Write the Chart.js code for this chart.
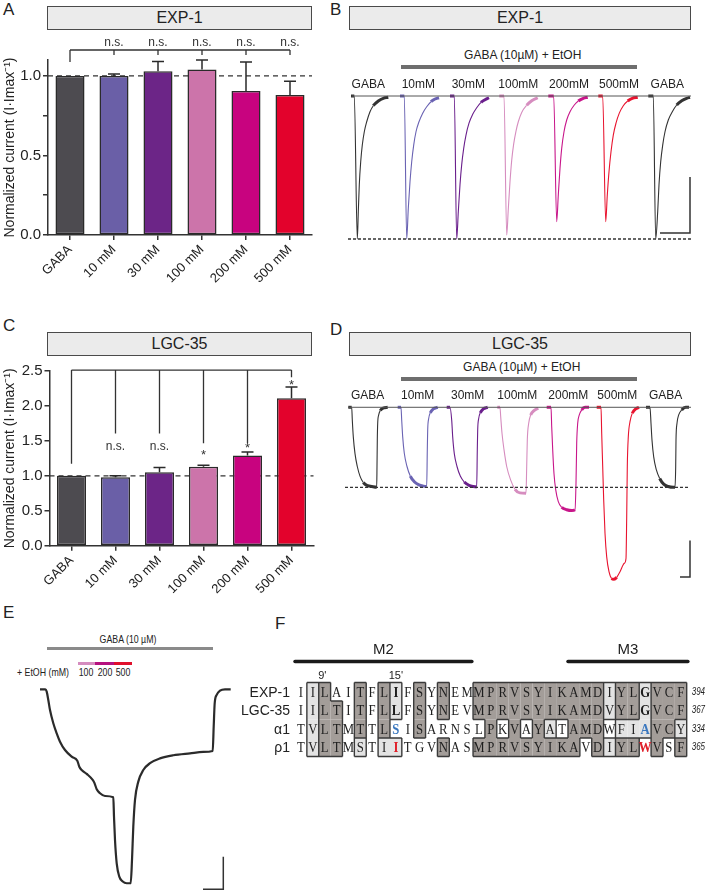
<!DOCTYPE html>
<html lang="en">
<head>
<meta charset="UTF-8" />
<title>EXP-1 / LGC-35 ethanol potentiation</title>
<script src="https://cdn.jsdelivr.net/npm/chart.js"></script>
<style>
  body { margin: 0; background: #fff; color: #222; font-family: "Liberation Sans", Arial, sans-serif; }
  #fig { position: relative; width: 709px; height: 892px; overflow: hidden; }
  canvas, .abs { position: absolute; }
  .letter { font-size: 17px; line-height: 17px; }
  .hdr { position: absolute; height: 24px; box-sizing: border-box; background: #ebebeb; border: 1px solid #4a4a4a;
         text-align: center; font-size: 16px; line-height: 22px; }
  .lbl { position: absolute; font-size: 12px; line-height: 12px; white-space: nowrap; transform: translate(-50%, -50%); }
  .narrow { position: absolute; font-size: 11px; line-height: 11px; white-space: nowrap; transform: translate(-50%, -50%) scaleX(0.8); }
  .gbar { position: absolute; }
</style>
</head>
<body>
<div id="fig">
  <div class="abs letter" style="left:3px;top:1px">A</div>
  <div class="abs letter" style="left:330px;top:1px">B</div>
  <div class="abs letter" style="left:3px;top:317px">C</div>
  <div class="abs letter" style="left:330px;top:321px">D</div>
  <div class="abs letter" style="left:3px;top:604px">E</div>
  <div class="abs letter" style="left:275px;top:615px">F</div>

  <div class="hdr" style="left:47px;top:6px;width:265px">EXP-1</div>
  <div class="hdr" style="left:349px;top:6px;width:342px">EXP-1</div>
  <div class="hdr" style="left:47px;top:332px;width:265px">LGC-35</div>
  <div class="hdr" style="left:349px;top:332px;width:342px">LGC-35</div>

  <canvas id="cA" width="325" height="266" style="left:0;top:36px"></canvas>
  <canvas id="cB" width="350" height="160" style="left:345px;top:88px"></canvas>
  <canvas id="cC" width="325" height="250" style="left:0;top:360px"></canvas>
  <canvas id="cD" width="350" height="185" style="left:345px;top:400px"></canvas>
  <canvas id="cE" width="210" height="212" style="left:30px;top:680px"></canvas>
  <canvas id="cF" width="469" height="120" style="left:240px;top:640px"></canvas>
</div>

<script>
  // ---- bar charts (A, C) ----
  const categories = ['GABA', '10 mM', '30 mM', '100 mM', '200 mM', '500 mM'];
  const exp1Mean = [1.00, 1.00, 1.03, 1.04, 0.905, 0.88];
  const exp1ErrTop = [1.00, 1.012, 1.09, 1.10, 1.088, 0.967];
  const exp1Sig = ['', 'n.s.', 'n.s.', 'n.s.', 'n.s.', 'n.s.'];
  const exp1SigY = [0, 1.187, 1.187, 1.187, 1.187, 1.187];
  const exp1Bracket = 1.163;
  const exp1BracketEnds = [1.088, 1.132, 1.132, 1.132, 1.132, 1.132];
  const exp1Ticks = [0, 0.25, 0.5, 0.75, 1.0];

  const lgc35Mean = [1.00, 0.98, 1.05, 1.13, 1.29, 2.11];
  const lgc35ErrTop = [1.00, 1.00, 1.12, 1.15, 1.34, 2.27];
  const lgc35Sig = ['', 'n.s.', 'n.s.', '*', '*', '*'];
  const lgc35SigY = [0, 1.366, 1.366, 1.247, 1.34, 2.236];
  const lgc35Bracket = 2.513;
  const lgc35BracketEnds = [1.172, 1.607, 1.607, 1.465, 1.465, 2.41];
  const lgc35Ticks = [0, 0.5, 1.0, 1.5, 2.0, 2.5];

  // ---- traces (B, D): [time, normalized current] ----
  const traceLabels = ['GABA', '10mM', '30mM', '100mM', '200mM', '500mM', 'GABA'];
  const bGaba1 = [[6,0],[9.3,0],[12.3,-1.0],[13.3,-0.81],[14.3,-0.62],[15.7,-0.46],[17.3,-0.343],[19.3,-0.25],[21.7,-0.18],[25,-0.11],[28.3,-0.068],[33.3,-0.035],[38.3,-0.016],[43.3,-0.009]];
  const b10 = [[55,0],[59.3,0],[61.7,-1.0],[63.3,-0.785],[65,-0.6],[66.7,-0.46],[68.7,-0.343],[71,-0.25],[74,-0.18],[77.7,-0.12],[81.7,-0.075],[86,-0.04],[90,-0.021],[94,-0.012]];
  const b30 = [[105,0],[109.3,0],[111.7,-1.0],[113.3,-0.81],[115,-0.62],[116.7,-0.48],[118.7,-0.366],[121,-0.273],[124,-0.19],[127.7,-0.128],[131.7,-0.082],[136,-0.044],[140,-0.026],[144,-0.012]];
  const b100 = [[154.3,0],[159,0],[161.7,-0.972],[163.3,-0.79],[165,-0.6],[166.7,-0.45],[168.7,-0.335],[171,-0.245],[173.3,-0.18],[176.7,-0.115],[181.7,-0.065],[186.7,-0.033],[192.7,-0.012]];
  const b200 = [[203.3,0],[208.7,0],[211.7,-0.879],[213.3,-0.692],[215,-0.506],[216.7,-0.366],[219,-0.25],[221.7,-0.168],[225,-0.11],[229.3,-0.063],[233.3,-0.035],[238.3,-0.016],[242.7,-0.009]];
  const b500 = [[253.3,0],[257.7,0],[260.7,-0.879],[262.3,-0.692],[264,-0.53],[266,-0.39],[268.3,-0.273],[271,-0.19],[274.3,-0.12],[278.3,-0.068],[282.7,-0.035],[287.3,-0.016],[292.7,-0.009]];
  const bGaba2 = [[303.3,0],[308.3,0],[310.7,-1.0],[312.7,-0.81],[314,-0.62],[315.7,-0.46],[317.7,-0.343],[320,-0.25],[323.3,-0.168],[327.3,-0.11],[331.7,-0.063],[336.7,-0.033],[341.7,-0.016],[345,-0.009]];

  const dGaba1 = [[3.3,0],[6.7,0],[7.3,-0.16],[8.3,-0.37],[10,-0.58],[12.3,-0.74],[15,-0.86],[18.3,-0.94],[22.7,-0.98],[26.7,-0.99],[31.7,-1.0],[32,-0.74],[32.3,-0.41],[32.7,-0.2],[33.7,-0.096],[35.3,-0.042],[38.3,-0.009],[42.7,0]];
  const d10 = [[52.7,0],[56,0],[56.7,-0.16],[57.7,-0.37],[59.3,-0.575],[62,-0.74],[65.3,-0.86],[69.3,-0.93],[74,-0.97],[78.3,-0.985],[81.7,-0.99],[82.3,-0.53],[82.7,-0.28],[83.7,-0.14],[85.3,-0.07],[88.3,-0.02],[92.7,0]];
  const d30 = [[101.7,0],[105,0],[106.7,-0.16],[107.7,-0.37],[109.3,-0.58],[112,-0.74],[115.3,-0.86],[119.3,-0.935],[124,-0.975],[128.3,-0.99],[131.7,-0.995],[132.3,-0.53],[132.7,-0.28],[133.7,-0.14],[135.3,-0.07],[138.3,-0.02],[142.7,0]];
  const d100 = [[152.3,0],[155,0],[155.7,-0.117],[157,-0.325],[159,-0.53],[161.7,-0.74],[165.7,-0.91],[170,-1.025],[175,-1.07],[181,-1.075],[181.7,-0.74],[182.3,-0.41],[183.7,-0.2],[185.7,-0.096],[189,-0.042],[193.3,-0.012]];
  const d200 = [[201.7,0],[206,0],[206.7,-0.24],[207.7,-0.53],[209,-0.83],[210.7,-1.03],[213.3,-1.18],[216.7,-1.25],[221.7,-1.28],[226.7,-1.29],[230,-1.28],[231,-0.95],[231.7,-0.45],[232.7,-0.2],[234.3,-0.096],[236.7,-0.034],[240,0],[244,0]];
  const d500 = [[251.7,0],[256,0],[256.7,-0.325],[257.7,-0.74],[258.7,-1.16],[260,-1.575],[261.7,-1.87],[264,-2.055],[266.7,-2.14],[269,-2.15],[271.7,-2.125],[275,-2.055],[279.3,-1.95],[281,-1.89],[281.7,-1.37],[282.3,-0.74],[283.3,-0.37],[285,-0.18],[287.3,-0.075],[290.7,-0.02],[294,0]];
  const dGaba2 = [[301,0],[305,0],[306,-0.2],[307,-0.41],[308.7,-0.62],[311.3,-0.78],[314.7,-0.89],[318.7,-0.96],[323.3,-0.99],[328.3,-1.0],[330,-1.0],[330.7,-0.74],[331,-0.41],[332,-0.2],[333.7,-0.096],[336.7,-0.034],[340.7,0],[344,0]];

  // ---- trace (E): GABA 10 µM with stepwise EtOH ----
  const eTrace = [[0,0],[5.3,0],[6.7,-0.012],[8.3,-0.055],[10,-0.107],[13.3,-0.175],[16.7,-0.227],[20,-0.27],[25,-0.313],[31.7,-0.347],[37.3,-0.368],[39.3,-0.399],[41.7,-0.416],[46.7,-0.436],[52.7,-0.467],[54.3,-0.481],[56.7,-0.515],[60,-0.536],[65,-0.55],[73.3,-0.557],[74,-0.656],[75,-0.777],[76.7,-0.897],[79.3,-0.966],[82.7,-0.991],[86.7,-1.0],[90.7,-1.0],[92,-0.88],[93.3,-0.708],[95,-0.57],[98.3,-0.476],[103.3,-0.416],[110,-0.381],[120,-0.356],[133.3,-0.34],[150,-0.33],[163.3,-0.323],[172.7,-0.318],[173.7,-0.192],[174.7,-0.072],[176.7,-0.029],[180,-0.007],[185,0],[190.7,0]];
  const eSteps = ['100', '200', '500'];

  // ---- alignment (F) ----
  const seqNames = ['EXP-1', 'LGC-35', 'α1', 'ρ1'];
  const seqs = ['IILAITFLIFSYNEMMPRVSYIKAMDIYLGVCF',
                'IILTITFLLFSYNEVMPRVSYIKAMDVYLGVCF',
                'TVLTMTTLSISARNSLPKVAYATAMDWFIAVCY',
                'TVLTMSTIITGVNASMPRVSYIKAVDIYLWVSF'];
  const seqEnds = ['394', '367', '334', '365'];
  // 0 none, 1 similar, 2 identical, 3 boxed
  const shading = ['012002021020200222222222221221222',
                   '012202021020200222222222221221222',
                   '012202020020000023232132220111221',
                   '012201011000200222222222021220202'];
  const blueMarks = [[2, 8], [2, 29]];
  const redMarks = [[3, 8], [3, 29]];
  const boldMarks = [[0, 8], [1, 8], [0, 29], [1, 29]];
  const motifs = [['M2', -0.5, 14.4], ['M3', 22.5, 32.6]];
  const primes = [["9'", 1.8], ["15'", 8]];

  Chart.defaults.font.family = '"Liberation Sans", Arial, sans-serif';
  Chart.defaults.color = '#222';
  const axisColor = '#333';
  const barColors = ['#4d4b50', '#6a5fa7', '#6c2587', '#cc74aa', '#c8037f', '#e3022c'];
  const traceColors = ['#333333', '#6a63b3', '#6a1f8c', '#d68dbf', '#c8168a', '#e8142f', '#333333'];

  function sigPlugin(o) {
    return {
      id: 'sig',
      beforeDatasetsDraw(chart) {
        const { ctx, chartArea: a, scales: { y } } = chart;
        ctx.save();
        ctx.strokeStyle = '#333';
        ctx.lineWidth = 1.3;
        ctx.setLineDash([5, 4]);
        ctx.beginPath();
        ctx.moveTo(a.left, y.getPixelForValue(1));
        ctx.lineTo(a.right, y.getPixelForValue(1));
        ctx.stroke();
        ctx.restore();
      },
      afterDatasetsDraw(chart) {
        const { ctx, scales: { x, y } } = chart;
        ctx.save();
        ctx.strokeStyle = '#2a2a2a';
        ctx.lineWidth = 1.5;
        o.means.forEach((m, i) => {
          if (o.err[i] <= m) return;
          const px = x.getPixelForValue(i);
          const top = y.getPixelForValue(o.err[i]);
          ctx.beginPath();
          ctx.moveTo(px, y.getPixelForValue(m));
          ctx.lineTo(px, top);
          ctx.moveTo(px - 6, top);
          ctx.lineTo(px + 6, top);
          ctx.stroke();
        });
        // bracket
        ctx.strokeStyle = '#333';
        ctx.lineWidth = 1.3;
        const by = y.getPixelForValue(o.bracket);
        ctx.beginPath();
        ctx.moveTo(x.getPixelForValue(0), by);
        ctx.lineTo(x.getPixelForValue(categories.length - 1), by);
        o.ends.forEach((e, i) => {
          const px = x.getPixelForValue(i);
          ctx.moveTo(px, by);
          ctx.lineTo(px, y.getPixelForValue(e));
        });
        ctx.stroke();
        ctx.fillStyle = '#333';
        ctx.textAlign = 'center';
        ctx.textBaseline = 'alphabetic';
        o.sig.forEach((s, i) => {
          if (!s) return;
          ctx.font = (s === '*' ? '13px' : '12px') + ' "Liberation Sans", Arial, sans-serif';
          ctx.fillText(s, x.getPixelForValue(i), y.getPixelForValue(o.sigY[i]));
        });
        ctx.restore();
      }
    };
  }

  function barChart(id, o) {
    const gridOpts = { offset: false, drawOnChartArea: false, drawTicks: true, tickLength: 5, color: axisColor, lineWidth: 1.5 };
    return new Chart(document.getElementById(id), {
      type: 'bar',
      data: {
        labels: categories,
        datasets: [{ data: o.means, backgroundColor: barColors, borderColor: '#2a2a2a', borderWidth: 1.5,
                     borderSkipped: false, barPercentage: 0.66, categoryPercentage: 1 }]
      },
      options: {
        responsive: false, animation: false, events: [],
        layout: { padding: o.pad },
        plugins: { legend: { display: false }, tooltip: { enabled: false } },
        scales: {
          x: {
            grid: gridOpts, border: { color: axisColor, width: 1.5 },
            ticks: { autoSkip: false, minRotation: 45, maxRotation: 45, font: { size: 13 }, color: '#222', padding: 2 },
            afterFit: s => { s.height = o.xHeight; }
          },
          y: {
            min: 0, max: o.yMax,
            grid: gridOpts, border: { color: axisColor, width: 1.5 },
            ticks: {
              autoSkip: false, font: { size: 15 }, color: '#222', padding: 2,
              callback: v => (Math.abs(v * 2 - Math.round(v * 2)) < 1e-6 ? v.toFixed(1) : '')
            },
            afterBuildTicks: s => { s.ticks = o.ticks.map(v => ({ value: v })); },
            title: { display: true, text: 'Normalized current (I·Imax⁻¹)', font: { size: 14 }, color: '#222',
                     padding: { top: 2, bottom: 0 } },
            afterFit: s => { s.width = o.yWidth; }
          }
        }
      },
      plugins: [sigPlugin(o)]
    });
  }

  barChart('cA', { means: exp1Mean, err: exp1ErrTop, sig: exp1Sig, sigY: exp1SigY, bracket: exp1Bracket,
                   ends: exp1BracketEnds, yMax: 1.1, ticks: exp1Ticks, yWidth: 48, xHeight: 67,
                   pad: { top: 24, right: 13, left: 0, bottom: 0 } });
  barChart('cC', { means: lgc35Mean, err: lgc35ErrTop, sig: lgc35Sig, sigY: lgc35SigY, bracket: lgc35Bracket,
                   ends: lgc35BracketEnds, yMax: 2.5, ticks: lgc35Ticks, yWidth: 49.5, xHeight: 64.3,
                   pad: { top: 10, right: 11.5, left: 0, bottom: 0 } });

  // ---- trace charts ----
  const pts = arr => arr.map(p => ({ x: p[0], y: p[1] }));

  function trace(arr, color, thin, thick, flat) {
    return {
      data: pts(arr), borderColor: color, borderWidth: thin, pointRadius: 0, clip: false,
      cubicInterpolationMode: 'monotone',
      segment: {
        borderWidth: c => (Math.abs((c.p1.y - c.p0.y) / ((c.p1.x - c.p0.x) || 1e-6)) < flat ? thick : thin)
      }
    };
  }
  function straight(arr, color, width, dash) {
    return { data: pts(arr), borderColor: color, borderWidth: width, borderDash: dash || [], pointRadius: 0,
             tension: 0, clip: false };
  }
  function traceChart(id, xr, yr, sets) {
    return new Chart(document.getElementById(id), {
      type: 'line',
      data: { datasets: sets },
      options: {
        responsive: false, animation: false, events: [],
        layout: { padding: 0 },
        plugins: { legend: { display: false }, tooltip: { enabled: false } },
        scales: {
          x: { type: 'linear', display: false, min: xr[0], max: xr[1] },
          y: { type: 'linear', display: false, min: yr[0], max: yr[1] }
        }
      }
    });
  }

  const bTraces = [bGaba1, b10, b30, b100, b200, b500, bGaba2];
  traceChart('cB', [0, 350], [-1.063, 0.056], [
    straight([[7, 0], [346, 0]], '#555', 1),
    straight([[3, -1], [346, -1]], '#333', 1.3, [3, 2]),
    ...bTraces.map((t, i) => trace(t, traceColors[i], 1.1, 3, 1.0)),
    straight([[315, -0.958], [345, -0.958], [345, -0.566]], '#333', 1.5)
  ]);

  const dTraces = [dGaba1, d10, d30, d100, d200, d500, dGaba2];
  traceChart('cD', [0, 350], [-2.221, 0.091], [
    straight([[3, 0], [346, 0]], '#555', 1),
    straight([[0, -1], [345, -1]], '#333', 1.3, [3, 2]),
    ...dTraces.map((t, i) => trace(t, traceColors[i], 1.1, 3, 1.5)),
    straight([[335, -2.12], [345, -2.12], [345, -1.666]], '#333', 1.5)
  ]);

  traceChart('cE', [-10, 200], [-1.045, 0.048], [
    { data: pts(eTrace), borderColor: '#2b2b2b', borderWidth: 2.2, pointRadius: 0, clip: false,
      cubicInterpolationMode: 'monotone' },
    straight([[163, -1.031], [183.3, -1.031], [183.3, -0.863]], '#333', 1.5)
  ]);

  // ---- alignment chart ----
  const alignPlugin = {
    id: 'align',
    afterDraw(chart) {
      const { ctx, chartArea: a, scales: { x, y } } = chart;
      const w = x.getPixelForValue(1) - x.getPixelForValue(0);
      const h = y.getPixelForValue(1) - y.getPixelForValue(0);
      const code = (r, c) => (r < 0 || r >= seqs.length || c < 0 || c >= seqs[0].length) ? 0 : +shading[r][c];
      const has = (list, r, c) => list.some(m => m[0] === r && m[1] === c);
      ctx.save();
      for (let r = 0; r < seqs.length; r++) {
        for (let c = 0; c < seqs[r].length; c++) {
          const k = code(r, c);
          if (!k) continue;
          ctx.fillStyle = k === 2 ? '#a39d99' : k === 1 ? '#e3e3e3' : '#ffffff';
          ctx.fillRect(x.getPixelForValue(c) - w / 2, y.getPixelForValue(r) - h / 2, w, h);
        }
      }
      ctx.strokeStyle = '#3a3a3a';
      ctx.lineWidth = 1.4;
      ctx.beginPath();
      for (let r = 0; r < seqs.length; r++) {
        for (let c = 0; c < seqs[r].length; c++) {
          const k = code(r, c);
          if (!k) continue;
          const l = x.getPixelForValue(c) - w / 2, t = y.getPixelForValue(r) - h / 2;
          if (code(r, c - 1) !== k) { ctx.moveTo(l, t); ctx.lineTo(l, t + h); }
          if (code(r, c + 1) !== k) { ctx.moveTo(l + w, t); ctx.lineTo(l + w, t + h); }
          if (code(r - 1, c) !== k) { ctx.moveTo(l, t); ctx.lineTo(l + w, t); }
          if (code(r + 1, c) !== k) { ctx.moveTo(l, t + h); ctx.lineTo(l + w, t + h); }
        }
      }
      ctx.stroke();
      ctx.textAlign = 'center';
      ctx.textBaseline = 'middle';
      for (let r = 0; r < seqs.length; r++) {
        for (let c = 0; c < seqs[r].length; c++) {
          const bold = has(boldMarks, r, c) || has(blueMarks, r, c) || has(redMarks, r, c);
          ctx.fillStyle = has(blueMarks, r, c) ? '#3b78bf' : has(redMarks, r, c) ? '#e0202a' : '#1e1e1e';
          ctx.font = (bold ? 'bold ' : '') + '15px "Liberation Serif", serif';
          ctx.save();
          ctx.translate(x.getPixelForValue(c), y.getPixelForValue(r) + 1);
          ctx.scale(0.85, 1);
          ctx.fillText(seqs[r][c], 0, 0);
          ctx.restore();
        }
      }
      // row names and residue numbers
      ctx.fillStyle = '#222';
      seqNames.forEach((n, r) => {
        ctx.font = '14px "Liberation Sans", Arial, sans-serif';
        ctx.textAlign = 'right';
        ctx.fillText(n, a.left - 5, y.getPixelForValue(r) + 1);
        ctx.font = 'italic 10px "Liberation Sans", Arial, sans-serif';
        ctx.textAlign = 'left';
        ctx.save();
        ctx.translate(a.right + 5, y.getPixelForValue(r));
        ctx.scale(0.8, 1);
        ctx.fillText(seqEnds[r], 0, 0);
        ctx.restore();
      });
      // transmembrane segments
      ctx.strokeStyle = '#1a1a1a';
      ctx.lineWidth = 3.5;
      ctx.lineCap = 'round';
      ctx.textAlign = 'center';
      motifs.forEach(m => {
        const x0 = x.getPixelForValue(m[1]), x1 = x.getPixelForValue(m[2]);
        ctx.beginPath();
        ctx.moveTo(x0, a.top - 21);
        ctx.lineTo(x1, a.top - 21);
        ctx.stroke();
        ctx.font = '15px "Liberation Sans", Arial, sans-serif';
        ctx.fillText(m[0], (x0 + x1) / 2, a.top - 32.5);
      });
      ctx.font = '11px "Liberation Sans", Arial, sans-serif';
      primes.forEach(p => ctx.fillText(p[0], x.getPixelForValue(p[1]), a.top - 6.5));
      ctx.restore();
    }
  };
  new Chart(document.getElementById('cF'), {
    type: 'line',
    data: { datasets: [] },
    options: {
      responsive: false, animation: false, events: [],
      layout: { padding: { left: 55, right: 22.3, top: 42.5, bottom: 3.5 } },
      plugins: { legend: { display: false }, tooltip: { enabled: false } },
      scales: {
        x: { type: 'linear', display: false, min: -0.5, max: seqs[0].length - 0.5 },
        y: { type: 'linear', display: false, min: -0.5, max: seqs.length - 0.5, reverse: true }
      }
    },
    plugins: [alignPlugin]
  });

  // ---- text labels and application bars ----
  const fig = document.getElementById('fig');
  function add(cls, text, x, y, extra) {
    const d = document.createElement('div');
    d.className = cls;
    d.style.left = x + 'px';
    d.style.top = y + 'px';
    if (text) d.textContent = text;
    Object.assign(d.style, extra || {});
    fig.appendChild(d);
  }
  const bLabelX = [368.3, 418.3, 468.3, 518.3, 569, 619, 667.3];
  const dLabelX = [367.7, 417.7, 467.7, 517.3, 568.3, 617.3, 665.7];
  add('lbl', 'GABA (10µM) + EtOH', 522.7, 55);
  add('gbar', '', 400.7, 65, { width: '236.3px', height: '4px', background: '#6e6e6e' });
  traceLabels.forEach((t, i) => add('lbl', t, bLabelX[i], 84));
  add('lbl', 'GABA (10µM) + EtOH', 521.7, 366.7);
  add('gbar', '', 400.7, 376.7, { width: '236.3px', height: '4px', background: '#6e6e6e' });
  traceLabels.forEach((t, i) => add('lbl', t, dLabelX[i], 395.3));

  add('narrow', 'GABA (10 µM)', 128, 639);
  add('gbar', '', 46.7, 646.5, { width: '166.6px', height: '3.5px', background: '#8a8a8a' });
  add('narrow', '+ EtOH (mM)', 42.5, 672);
  const stepColors = ['#d58cbf', '#b5127f', '#e0102c'];
  const stepX = [78, 95.3, 114, 132];
  const stepLabelX = [86, 105, 123];
  eSteps.forEach((s, i) => {
    add('gbar', '', stepX[i], 661.5, { width: (stepX[i + 1] - stepX[i]) + 'px', height: '3.5px', background: stepColors[i] });
    add('narrow', s, stepLabelX[i], 672);
  });
</script>
</body>
</html>
